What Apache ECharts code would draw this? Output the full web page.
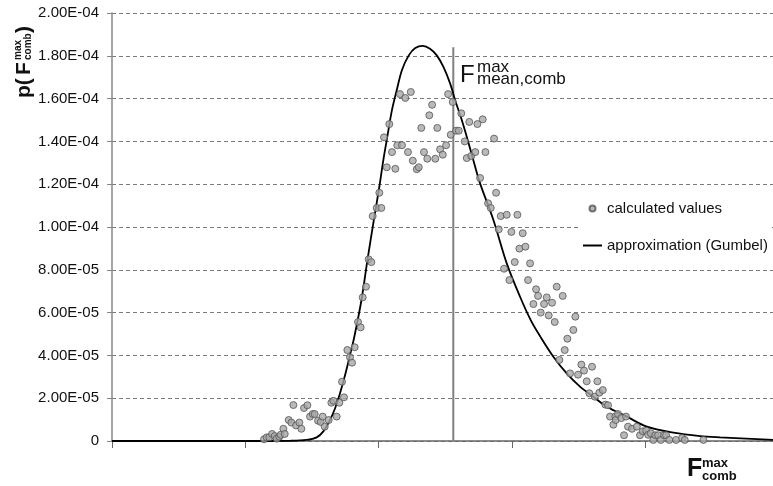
<!DOCTYPE html>
<html>
<head>
<meta charset="utf-8">
<script src="https://cdn.jsdelivr.net/npm/echarts@6/dist/echarts.min.js"></script>
<style>
  html, body { margin: 0; padding: 0; background: #fff; }
  #chart { width: 773px; height: 486px; }
</style>
</head>
<body>
<div id="chart"></div>
<script>
// calculated values (x in axis units, y in probability density)
var calcX = [1.141,1.161,1.180,1.201,1.221,1.236,1.256,1.266,1.286,1.296,1.326,1.346,1.361,1.381,1.406,1.421,1.441,1.466,1.486,1.506,1.521,1.546,1.566,1.581,1.596,1.626,1.646,1.661,1.686,1.706,1.726,1.741,1.766,1.786,1.801,1.821,1.846,1.866,1.881,1.906,1.926,1.946,1.956,1.986,2.006,2.021,2.041,2.062,2.081,2.101,2.126,2.141,2.161,2.176,2.201,2.221,2.242,2.257,2.287,2.302,2.321,2.341,2.366,2.381,2.402,2.426,2.441,2.462,2.482,2.507,2.522,2.542,2.557,2.582,2.602,2.621,2.647,2.662,2.681,2.696,2.726,2.742,2.762,2.782,2.802,2.822,2.842,2.867,2.882,2.902,2.917,2.942,2.962,2.982,2.997,3.022,3.042,3.057,3.082,3.102,3.122,3.137,3.162,3.182,3.197,3.217,3.242,3.262,3.277,3.302,3.322,3.337,3.357,3.382,3.397,3.417,3.437,3.462,3.477,3.497,3.522,3.542,3.562,3.582,3.602,3.623,3.642,3.657,3.683,3.702,3.722,3.737,3.762,3.777,3.780,3.797,3.822,3.842,3.857,3.872,3.902,3.938,3.962,3.983,4.008,4.023,4.043,4.062,4.077,4.098,4.118,4.143,4.158,4.182,4.233,4.278,4.298,4.438];
var calcY = [0.08e-5,0.17e-5,0.17e-5,0.33e-5,0.23e-5,0.11e-5,0.20e-5,0.29e-5,0.57e-5,0.33e-5,0.98e-5,0.86e-5,1.68e-5,0.73e-5,0.86e-5,0.57e-5,1.54e-5,1.67e-5,1.14e-5,1.26e-5,1.26e-5,0.95e-5,0.89e-5,1.14e-5,0.67e-5,0.98e-5,1.79e-5,1.88e-5,1.14e-5,1.79e-5,2.77e-5,2.04e-5,4.25e-5,3.91e-5,3.66e-5,4.38e-5,5.56e-5,5.31e-5,6.71e-5,7.21e-5,8.49e-5,8.36e-5,10.51e-5,10.89e-5,11.60e-5,10.89e-5,14.19e-5,12.79e-5,14.81e-5,13.50e-5,12.72e-5,13.82e-5,16.21e-5,13.82e-5,16.03e-5,13.50e-5,16.31e-5,13.10e-5,12.70e-5,12.79e-5,14.63e-5,13.50e-5,13.19e-5,15.22e-5,15.71e-5,13.19e-5,14.63e-5,13.63e-5,13.38e-5,13.82e-5,16.21e-5,14.31e-5,15.84e-5,14.50e-5,14.50e-5,15.31e-5,14.00e-5,13.22e-5,14.91e-5,13.32e-5,13.50e-5,14.81e-5,12.29e-5,15.03e-5,13.50e-5,11.11e-5,10.89e-5,14.13e-5,11.60e-5,9.89e-5,10.51e-5,8.05e-5,10.57e-5,7.52e-5,9.77e-5,8.36e-5,10.57e-5,8.99e-5,9.71e-5,9.08e-5,7.52e-5,8.30e-5,6.40e-5,7.09e-5,6.78e-5,6.00e-5,6.40e-5,6.71e-5,5.87e-5,6.46e-5,5.56e-5,7.21e-5,3.79e-5,6.78e-5,4.25e-5,4.78e-5,3.16e-5,5.19e-5,5.81e-5,3.10e-5,3.57e-5,3.29e-5,2.79e-5,2.23e-5,3.47e-5,2.07e-5,2.79e-5,2.26e-5,2.38e-5,1.70e-5,1.67e-5,1.14e-5,0.76e-5,1.14e-5,0.98e-5,1.26e-5,1.07e-5,0.27e-5,1.14e-5,0.67e-5,0.57e-5,0.67e-5,0.27e-5,0.45e-5,0.48e-5,0.29e-5,0.36e-5,0.05e-5,0.27e-5,0.27e-5,0.05e-5,0.27e-5,0.27e-5,0.05e-5,0.05e-5,0.14e-5,0.05e-5,0.05e-5];

// approximation (Gumbel)
var fitX = [0,1.036,1.336,1.461,1.536,1.586,1.636,1.674,1.711,1.749,1.786,1.816,1.872,1.917,1.965,2.006,2.036,2.066,2.101,2.137,2.176,2.227,2.276,2.332,2.386,2.437,2.486,2.537,2.576,2.617,2.662,2.711,2.762,2.862,2.962,3.062,3.142,3.212,3.312,3.412,3.512,3.612,3.713,3.863,4.013,4.212,4.413,4.563,4.961];
var fitY = [0,0,0.01e-5,0.05e-5,0.17e-5,0.45e-5,0.98e-5,1.53e-5,2.23e-5,3.08e-5,4.02e-5,4.80e-5,6.59e-5,8.46e-5,10.33e-5,11.88e-5,13.13e-5,14.22e-5,15.47e-5,16.40e-5,17.34e-5,18.02e-5,18.36e-5,18.46e-5,18.33e-5,18.02e-5,17.49e-5,16.71e-5,15.90e-5,15.15e-5,14.22e-5,13.13e-5,12.04e-5,10.33e-5,8.30e-5,6.74e-5,5.65e-5,4.90e-5,3.94e-5,3.16e-5,2.54e-5,2.07e-5,1.60e-5,1.14e-5,0.67e-5,0.39e-5,0.23e-5,0.17e-5,0.05e-5];

// mean value marker
var meanX = 2.561;
var meanTop = 18.4e-5;

// axes
var xMax = 4.96;
var xTicks = [0, 1, 2, 3, 4];
var yMax = 2.0e-4;
var yStep = 2.0e-5;

var FONT = '"Liberation Sans", Arial, sans-serif';
var NONE = 'rgba(0,0,0,0)';

function zip(a, b) {
  var out = [];
  for (var i = 0; i < a.length; i++) out.push([a[i], b[i]]);
  return out;
}

function sciLabel(v) {
  if (Math.abs(v) < 1e-12) return '0';
  var s = v.toExponential(2).toUpperCase();
  return s.replace(/E([+-])(\d)$/, 'E$10$2');
}

function label(x, y, text, font, rot) {
  return {
    type: 'text', x: x, y: y, rotation: rot || 0, silent: true,
    style: { text: text, font: font, fill: '#111', align: 'left', verticalAlign: 'middle' }
  };
}

var chart = echarts.init(document.getElementById('chart'), null, { renderer: 'canvas' });

var R = Math.PI / 2;

chart.setOption({
  animation: false,
  backgroundColor: '#fff',
  textStyle: { fontFamily: FONT },
  grid: { left: 112, right: 0, top: 13, bottom: 45 },
  xAxis: {
    type: 'value',
    min: 0,
    max: xMax,
    interval: 1,
    axisLine: { show: true, onZero: false, lineStyle: { color: '#666', width: 1.5 } },
    axisTick: { show: true, length: 7, customValues: xTicks, lineStyle: { color: '#666', width: 1 } },
    axisLabel: { show: false },
    splitLine: { show: false }
  },
  yAxis: {
    type: 'value',
    min: 0,
    max: yMax,
    interval: yStep,
    axisLine: { show: true, lineStyle: { color: '#888', width: 1.5 } },
    axisTick: { show: true, length: 5, lineStyle: { color: '#888' } },
    axisLabel: {
      margin: 13,
      color: '#111',
      fontSize: 15,
      fontFamily: FONT,
      formatter: sciLabel
    },
    splitLine: { show: true, lineStyle: { color: '#7a7a7a', type: [4, 3], width: 1 } }
  },
  legend: {
    orient: 'vertical',
    left: 578,
    top: 199,
    itemWidth: 19,
    itemHeight: 6,
    itemGap: 22,
    padding: [2, 4, 6, 4],
    backgroundColor: '#fff',
    textStyle: { fontSize: 15, color: '#111', fontFamily: FONT },
    data: [
      { name: 'calculated values', icon: 'circle' },
      { name: 'approximation (Gumbel)', itemStyle: { color: NONE, borderColor: NONE, borderWidth: 0 } }
    ]
  },
  graphic: [
    // y axis title p(F max/comb)
    label(24, 98, 'p(', 'bold 21px ' + FONT, R),
    label(24, 75, 'F', 'bold 21px ' + FONT, R),
    label(18, 60, 'max', 'bold 10px ' + FONT, R),
    label(28, 60, 'comb', 'bold 10px ' + FONT, R),
    label(24, 33, ')', 'bold 21px ' + FONT, R),
    // x axis title
    label(687, 469, 'F', 'bold 25px ' + FONT),
    label(702, 463, 'max', 'bold 13px ' + FONT),
    label(702, 476, 'comb', 'bold 13px ' + FONT),
    // mean label
    label(460, 75, 'F', '24px ' + FONT),
    label(477, 67, 'max', '17px ' + FONT),
    label(477, 79, 'mean,comb', '17px ' + FONT)
  ],
  series: [
    {
      name: 'mean',
      type: 'line',
      data: [[meanX, 0], [meanX, meanTop]],
      symbol: 'none',
      silent: true,
      lineStyle: { color: '#808080', width: 2 },
      z: 1
    },
    {
      name: 'approximation (Gumbel)',
      type: 'line',
      data: zip(fitX, fitY),
      symbol: 'none',
      smooth: 0.35,
      lineStyle: { color: '#000', width: 1.8 },
      z: 2
    },
    {
      name: 'calculated values',
      type: 'scatter',
      data: zip(calcX, calcY),
      symbol: 'circle',
      symbolSize: 7,
      itemStyle: { color: '#a8a8a8', borderColor: '#555', borderWidth: 1 },
      z: 3
    }
  ]
});
</script>
</body>
</html>
